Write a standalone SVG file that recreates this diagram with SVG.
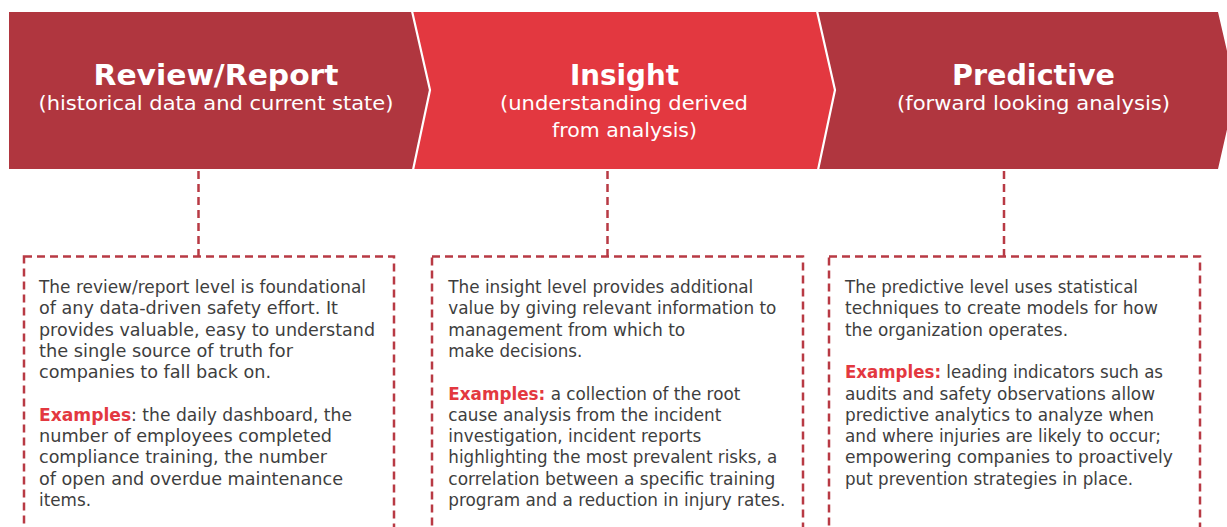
<svg xmlns="http://www.w3.org/2000/svg" width="1227" height="527" viewBox="0 0 1227 527">
<style>
.dark{fill:#b0363f}
.bright{fill:#e33840}
.seam{fill:none;stroke:#fff;stroke-width:2.2}
.title{font-family:"DejaVu Sans","Liberation Sans",sans-serif;font-weight:bold;font-size:27.5px;fill:#fff;text-anchor:middle}
.sub{font-family:"DejaVu Sans","Liberation Sans",sans-serif;font-size:19.5px;fill:#fff;text-anchor:middle}
.body{font-family:"DejaVu Sans","Liberation Sans",sans-serif;font-size:17.5px;fill:#3e3e3e}
.ex{font-weight:bold;fill:#e33840}
.dash{fill:none;stroke:#b83a44;stroke-width:2.5;stroke-dasharray:8 5}
</style>
<rect width="1227" height="527" fill="#fff"/>
<g id="banner-review">
<polygon class="dark" points="9,12 412,12 430,90 413,169 9,169"/>
<text class="title" x="216" y="85" textLength="245" lengthAdjust="spacingAndGlyphs">Review/Report</text>
<text class="sub" x="216" y="110" textLength="355" lengthAdjust="spacingAndGlyphs">(historical data and current state)</text>
</g>
<g id="banner-insight">
<polygon class="bright" points="412,12 817,12 835,90 818,169 413,169 430,90"/>
<text class="title" x="624.5" y="85" textLength="109" lengthAdjust="spacingAndGlyphs">Insight</text>
<text class="sub" x="624" y="110" textLength="248" lengthAdjust="spacingAndGlyphs">(understanding derived</text>
<text class="sub" x="624.5" y="137" textLength="145" lengthAdjust="spacingAndGlyphs">from analysis)</text>
</g>
<g id="banner-predictive">
<polygon class="dark" points="817,12 1218,12 1236,90 1218,169 818,169 835,90"/>
<text class="title" x="1033.5" y="85" textLength="163" lengthAdjust="spacingAndGlyphs">Predictive</text>
<text class="sub" x="1033.5" y="110" textLength="273" lengthAdjust="spacingAndGlyphs">(forward looking analysis)</text>
</g>
<polyline class="seam" points="412,11 430,90 413,170"/>
<polyline class="seam" points="817,11 835,90 818,170"/>
<g id="connectors">
<line class="dash" x1="198.5" y1="171" x2="198.5" y2="256"/>
<line class="dash" x1="607.5" y1="171" x2="607.5" y2="256"/>
<line class="dash" x1="1004" y1="171" x2="1004" y2="256"/>
</g>
<g id="box-review">
<rect class="dash" x="24" y="256.5" width="370" height="290"/>
<text class="body" x="39" y="293" textLength="327" lengthAdjust="spacingAndGlyphs">The review/report level is foundational</text>
<text class="body" x="39" y="314.3" textLength="299" lengthAdjust="spacingAndGlyphs">of any data-driven safety effort. It</text>
<text class="body" x="39" y="335.6" textLength="336" lengthAdjust="spacingAndGlyphs">provides valuable, easy to understand</text>
<text class="body" x="39" y="356.9" textLength="254" lengthAdjust="spacingAndGlyphs">the single source of truth for</text>
<text class="body" x="39" y="378.2" textLength="232" lengthAdjust="spacingAndGlyphs">companies to fall back on.</text>
<text class="body" x="39" y="420.8" textLength="313" lengthAdjust="spacingAndGlyphs"><tspan class="ex">Examples</tspan>: the daily dashboard, the</text>
<text class="body" x="39" y="442.1" textLength="293" lengthAdjust="spacingAndGlyphs">number of employees completed</text>
<text class="body" x="39" y="463.4" textLength="288" lengthAdjust="spacingAndGlyphs">compliance training, the number</text>
<text class="body" x="39" y="484.7" textLength="304" lengthAdjust="spacingAndGlyphs">of open and overdue maintenance</text>
<text class="body" x="39" y="506" textLength="52" lengthAdjust="spacingAndGlyphs">items.</text>
</g>
<g id="box-insight">
<rect class="dash" x="432" y="256.5" width="371" height="290"/>
<text class="body" x="448.3" y="293" textLength="305" lengthAdjust="spacingAndGlyphs">The insight level provides additional</text>
<text class="body" x="448.3" y="314.3" textLength="328" lengthAdjust="spacingAndGlyphs">value by giving relevant information to</text>
<text class="body" x="448.3" y="335.6" textLength="237" lengthAdjust="spacingAndGlyphs">management from which to</text>
<text class="body" x="448.3" y="356.9" textLength="134" lengthAdjust="spacingAndGlyphs">make decisions.</text>
<text class="body" x="448.3" y="399.5" textLength="292" lengthAdjust="spacingAndGlyphs"><tspan class="ex">Examples:</tspan> a collection of the root</text>
<text class="body" x="448.3" y="420.8" textLength="273" lengthAdjust="spacingAndGlyphs">cause analysis from the incident</text>
<text class="body" x="448.3" y="442.1" textLength="253" lengthAdjust="spacingAndGlyphs">investigation, incident reports</text>
<text class="body" x="448.3" y="463.4" textLength="329" lengthAdjust="spacingAndGlyphs">highlighting the most prevalent risks, a</text>
<text class="body" x="448.3" y="484.7" textLength="327" lengthAdjust="spacingAndGlyphs">correlation between a specific training</text>
<text class="body" x="448.3" y="506" textLength="337" lengthAdjust="spacingAndGlyphs">program and a reduction in injury rates.</text>
</g>
<g id="box-predictive">
<rect class="dash" x="829" y="256.5" width="371" height="290"/>
<text class="body" x="845" y="293" textLength="293" lengthAdjust="spacingAndGlyphs">The predictive level uses statistical</text>
<text class="body" x="845" y="314.3" textLength="313" lengthAdjust="spacingAndGlyphs">techniques to create models for how</text>
<text class="body" x="845" y="335.6" textLength="223" lengthAdjust="spacingAndGlyphs">the organization operates.</text>
<text class="body" x="845" y="378.2" textLength="318" lengthAdjust="spacingAndGlyphs"><tspan class="ex">Examples:</tspan> leading indicators such as</text>
<text class="body" x="845" y="399.5" textLength="310" lengthAdjust="spacingAndGlyphs">audits and safety observations allow</text>
<text class="body" x="845" y="420.8" textLength="309" lengthAdjust="spacingAndGlyphs">predictive analytics to analyze when</text>
<text class="body" x="845" y="442.1" textLength="316" lengthAdjust="spacingAndGlyphs">and where injuries are likely to occur;</text>
<text class="body" x="845" y="463.4" textLength="328" lengthAdjust="spacingAndGlyphs">empowering companies to proactively</text>
<text class="body" x="845" y="484.7" textLength="288" lengthAdjust="spacingAndGlyphs">put prevention strategies in place.</text>
</g>
</svg>
